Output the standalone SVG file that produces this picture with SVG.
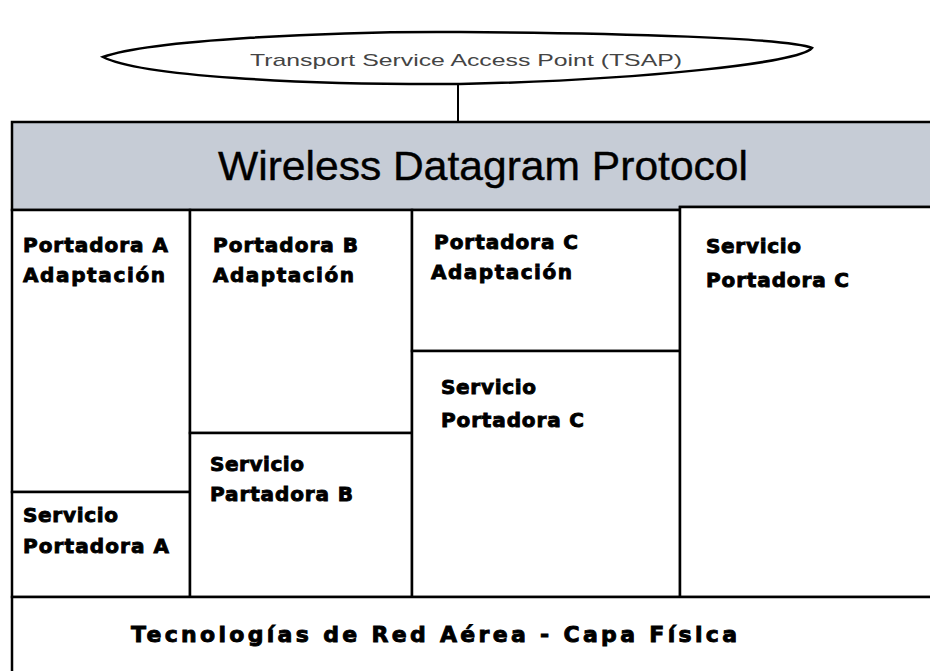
<svg xmlns="http://www.w3.org/2000/svg" width="930" height="671" viewBox="0 0 930 671">
<style>
.box{fill:#ffffff;stroke:#000000;stroke-width:2.5}
.band{fill:#c6ccd6;stroke:#000000;stroke-width:2.5}
.lbl{font-family:"DejaVu Sans","Liberation Sans",sans-serif;font-weight:bold;font-size:20px;fill:#000000;stroke:#000000;stroke-width:0.9}
.big{font-family:"DejaVu Sans","Liberation Sans",sans-serif;font-weight:bold;font-size:22px;fill:#000000;stroke:#000000;stroke-width:0.9}
.title{font-family:"Liberation Sans",Arial,sans-serif;font-size:41px;fill:#000000;stroke:#000000;stroke-width:0.4}
.tsap{font-family:"Liberation Sans",Arial,sans-serif;font-size:17px;fill:#444444}
.conn{stroke:#000000;stroke-width:2;fill:none}
</style>
<rect x="0" y="0" width="930" height="671" fill="#ffffff"/>
<g id="connectors">
<line class="conn" x1="458" y1="84" x2="458" y2="122"/>
</g>
<g id="tsap">
<path d="M103 57 C150 40 330 31 460 32 C620 33 790 38 812 48 C800 63 640 80 460 84 C300 85 140 76 103 57 Z" fill="#ffffff" stroke="#000000" stroke-width="2.5"/>
<text class="tsap" x="250" y="66" textLength="432" lengthAdjust="spacingAndGlyphs">Transport Service Access Point (TSAP)</text>
</g>
<g id="wdp">
<path class="band" d="M12 122 H934 V207 H680 V210 H12 Z"/>
<text class="title" x="218" y="180" textLength="530" lengthAdjust="spacingAndGlyphs">Wireless Datagram Protocol</text>
</g>
<g id="adapt-a">
<rect class="box" x="12" y="210" width="178" height="282"/>
<text class="lbl" x="23" y="252" textLength="145" lengthAdjust="spacing">Portadora A</text>
<text class="lbl" x="23" y="282" textLength="142" lengthAdjust="spacing">Adaptación</text>
</g>
<g id="serv-a">
<rect class="box" x="12" y="492" width="178" height="105"/>
<text class="lbl" x="23" y="522" textLength="95" lengthAdjust="spacing">Servicio</text>
<text class="lbl" x="23" y="553" textLength="146" lengthAdjust="spacing">Portadora A</text>
</g>
<g id="adapt-b">
<rect class="box" x="190" y="210" width="222" height="223"/>
<text class="lbl" x="213" y="252" textLength="145" lengthAdjust="spacing">Portadora B</text>
<text class="lbl" x="213" y="282" textLength="141" lengthAdjust="spacing">Adaptación</text>
</g>
<g id="serv-b">
<rect class="box" x="190" y="433" width="222" height="164"/>
<text class="lbl" x="210" y="471" textLength="94" lengthAdjust="spacing">Servicio</text>
<text class="lbl" x="210" y="501" textLength="143" lengthAdjust="spacing">Partadora B</text>
</g>
<g id="adapt-c">
<rect class="box" x="412" y="210" width="268" height="141"/>
<text class="lbl" x="434" y="249" textLength="144" lengthAdjust="spacing">Portadora C</text>
<text class="lbl" x="431" y="279" textLength="141" lengthAdjust="spacing">Adaptación</text>
</g>
<g id="serv-c">
<rect class="box" x="412" y="351" width="268" height="246"/>
<text class="lbl" x="441" y="394" textLength="95" lengthAdjust="spacing">Servicio</text>
<text class="lbl" x="441" y="427" textLength="143" lengthAdjust="spacing">Portadora C</text>
</g>
<g id="serv-d">
<rect class="box" x="680" y="207" width="254" height="390"/>
<text class="lbl" x="706" y="253" textLength="95" lengthAdjust="spacing">Servicio</text>
<text class="lbl" x="706" y="287" textLength="143" lengthAdjust="spacing">Portadora C</text>
</g>
<g id="physical">
<rect class="box" x="12" y="597" width="922" height="80"/>
<text class="big" x="131" y="642" textLength="606" lengthAdjust="spacing">Tecnologías de Red Aérea  - Capa Física</text>
</g>
</svg>
